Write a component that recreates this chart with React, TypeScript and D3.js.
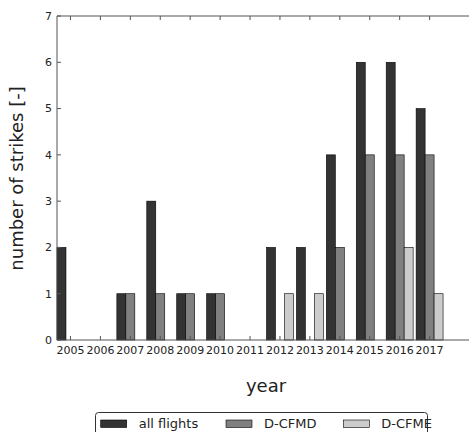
import React from 'react';
import * as d3 from 'd3';

const years = ['2005', '2006', '2007', '2008', '2009', '2010', '2011', '2012', '2013', '2014', '2015', '2016', '2017'];
const allFlights = [2, 0, 1, 3, 1, 1, 0, 2, 2, 4, 6, 6, 5];
const dCFMD = [0, 0, 1, 1, 1, 1, 0, 0, 0, 2, 4, 4, 4];
const dCFME = [0, 0, 0, 0, 0, 0, 0, 1, 1, 0, 0, 2, 1];
const yTicks = [0, 1, 2, 3, 4, 5, 6, 7];

const seriesNames = ['all flights', 'D-CFMD', 'D-CFME'];
const colors = ['#333333', '#808080', '#cccccc'];

const W = 469;
const H = 432;
const margin = { left: 57, top: 16, right: -1, bottom: 92 };
const font = 'DejaVu Sans, sans-serif';

const App: React.FC = () => {
  const series = [allFlights, dCFMD, dCFME];
  const barW = 0.3;

  const x = d3
    .scaleLinear()
    .domain([-0.45, 13.35])
    .range([margin.left, W - margin.right]);
  const y = d3
    .scaleLinear()
    .domain([0, 7])
    .range([H - margin.bottom, margin.top]);

  const plotBottom = y(0);
  const plotTop = y(7);
  const axisColor = '#555555';

  return (
    <svg width={W} height={H} style={{ position: 'absolute', left: 0, top: 0 }}>
      <rect x={0} y={0} width={W} height={H} fill="white" />
      {/* bars */}
      {series.map((vals, s) =>
        vals.map((v, i) =>
          v > 0 ? (
            <rect
              key={`${s}-${i}`}
              x={x(i - 1.5 * barW + s * barW)}
              y={y(v)}
              width={x(barW) - x(0)}
              height={plotBottom - y(v)}
              fill={colors[s]}
              stroke="#000"
              strokeWidth={0.6}
            />
          ) : null
        )
      )}
      {/* spines */}
      <line x1={margin.left} x2={margin.left} y1={plotTop} y2={plotBottom} stroke={axisColor} strokeWidth={1} />
      <line x1={margin.left} x2={W} y1={plotTop} y2={plotTop} stroke={axisColor} strokeWidth={1} />
      <line x1={margin.left} x2={W} y1={plotBottom} y2={plotBottom} stroke={axisColor} strokeWidth={1} />
      {/* y ticks */}
      {yTicks.map((t) => (
        <g key={t}>
          <line x1={margin.left} x2={margin.left + 4} y1={y(t)} y2={y(t)} stroke={axisColor} />
          <text x={margin.left - 5} y={y(t)} dy="0.35em" textAnchor="end" fontFamily={font} fontSize={11} fill="#222">
            {t}
          </text>
        </g>
      ))}
      {/* x ticks */}
      {years.map((yr, i) => (
        <g key={yr}>
          <line x1={x(i)} x2={x(i)} y1={plotBottom} y2={plotBottom - 4} stroke={axisColor} />
          <line x1={x(i)} x2={x(i)} y1={plotTop} y2={plotTop + 4} stroke={axisColor} />
          <text x={x(i)} y={plotBottom + 14} textAnchor="middle" fontFamily={font} fontSize={11} fill="#222">
            {yr}
          </text>
        </g>
      ))}
      {/* axis labels */}
      <text x={266} y={392} textAnchor="middle" fontFamily={font} fontSize={18} fill="#222">
        year
      </text>
      <text
        transform={`translate(23,${178.5}) rotate(-90)`}
        textAnchor="middle"
        fontFamily={font}
        fontSize={18}
        fill="#222"
      >
        number of strikes [-]
      </text>
      {/* legend */}
      <rect x={95.5} y={412.5} width={332} height={30} rx={3} fill="white" stroke="#333" strokeWidth={1} />
      {seriesNames.map((name, s) => {
        const lx = [100.7, 226, 343.3][s];
        return (
          <g key={name}>
            <rect x={lx} y={420} width={26} height={7.5} fill={colors[s]} stroke="#000" strokeWidth={0.6} />
            <text x={lx + 38} y={428} fontFamily={font} fontSize={13} fill="#222">
              {name}
            </text>
          </g>
        );
      })}
    </svg>
  );
};

export default App;
